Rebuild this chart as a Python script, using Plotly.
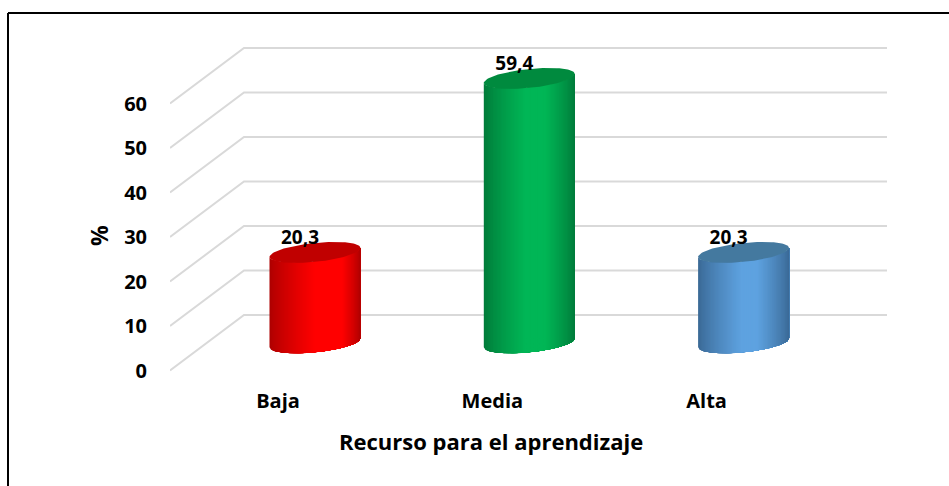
import numpy as np
import plotly.graph_objects as go

categories = ["Baja", "Media", "Alta"]
values = [20.3, 59.4, 20.3]
labels = ["20,3", "59,4", "20,3"]
y_ticks = [0, 10, 20, 30, 40, 50, 60]
x_title = "Recurso para el aprendizaje"
y_title = "%"

W, H = 949, 486
L, R, T, B = 170, 930, 40, 375
PX_PER_CAT = 214.3
PX_PER_VAL = 4.45
CAT0_PX = 278
ZERO_PX = 370.5

x0 = (L - CAT0_PX) / PX_PER_CAT
x1 = (R - CAT0_PX) / PX_PER_CAT
y0 = (ZERO_PX - B) / PX_PER_VAL
y1 = (ZERO_PX - T) / PX_PER_VAL

DEPTH_X = 74 / PX_PER_CAT
DEPTH_Y = 55.5 / PX_PER_VAL
RIGHT_END = (887 - CAT0_PX) / PX_PER_CAT
A = 45.5 / PX_PER_CAT
BV = 9.5 / PX_PER_VAL
SV = 4.5 / PX_PER_VAL
FONT = "Open Sans"

styles = [
    dict(edge=(172, 0, 0), mid=(255, 0, 0), top="#c00000", lo=0.0, hi=0.6),
    dict(edge=(0, 122, 58), mid=(0, 182, 86), top="#008a3e", lo=-0.1, hi=0.35),
    dict(edge=(58, 104, 148), mid=(94, 162, 224), top="#44799f", lo=-0.05, hi=0.3),
]


def shade(st, u):
    if u < st["lo"]:
        f = (u + 1) / (st["lo"] + 1)
    elif u > st["hi"]:
        f = (1 - u) / (1 - st["hi"])
    else:
        f = 1
    f = f ** 0.8
    c = [int(e + (m - e) * f) for e, m in zip(st["edge"], st["mid"])]
    return "rgb(%d,%d,%d)" % tuple(c)


fig = go.Figure()

# gridlines: side wall + back wall
gx, gy = [], []
for v in y_ticks:
    gx += [x0, x0 + DEPTH_X, RIGHT_END, None]
    gy += [v, v + DEPTH_Y, v + DEPTH_Y, None]
fig.add_trace(go.Scatter(x=gx, y=gy, mode="lines", line=dict(color="#d9d9d9", width=2),
                         hoverinfo="skip", showlegend=False))

N = 70
for i, (v, st) in enumerate(zip(values, styles)):
    cx = i + DEPTH_X / 2
    base = DEPTH_Y / 2
    top = base + v
    edges = np.linspace(-1, 1, N + 1)
    for a in edges[:-1]:
        # each strip runs to the right-hand edge and the next one paints over it
        us = np.linspace(a, 1, max(int((1 - a) * 30), 3))
        xs = cx + A * us
        front = np.sqrt(np.clip(1 - us ** 2, 0, 1)) * BV
        slope = SV * us
        px = np.concatenate([xs, xs[::-1]])
        py = np.concatenate([top + slope - front, (base + slope - front)[::-1]])
        fig.add_trace(go.Scatter(x=px, y=py, mode="lines", fill="toself",
                                 fillcolor=shade(st, a + 1 / N), line=dict(width=0),
                                 hoverinfo="skip", showlegend=False))
    t = np.linspace(0, 2 * np.pi, 90)
    fig.add_trace(go.Scatter(x=cx + A * np.cos(t), y=top + SV * np.cos(t) + BV * np.sin(t),
                             mode="lines", fill="toself", fillcolor=st["top"], line=dict(width=0),
                             hoverinfo="skip", showlegend=False))

# value labels
lx = [i + 22 / PX_PER_CAT for i in range(len(values))]
ly = [v + DEPTH_Y / 2 + 13 / PX_PER_VAL for v in values]
fig.add_trace(go.Scatter(x=lx, y=ly, mode="text", text=labels,
                         textfont=dict(family=FONT, size=19, color="#000000", weight="bold"),
                         hoverinfo="skip", showlegend=False))

fig.update_layout(
    width=W, height=H, autosize=False,
    margin=dict(l=L, r=W - R, t=T, b=H - B, pad=0),
    paper_bgcolor="white", plot_bgcolor="rgba(0,0,0,0)",
    showlegend=False,
    xaxis=dict(range=[x0, x1], tickmode="array", tickvals=list(range(len(categories))),
               ticktext=categories, showgrid=False, zeroline=False, showline=False,
               ticks="outside", ticklen=8, tickcolor="rgba(0,0,0,0)",
               tickfont=dict(family=FONT, size=20, color="#000000", weight="bold")),
    yaxis=dict(range=[y0, y1], tickmode="array", tickvals=y_ticks, showgrid=False,
               zeroline=False, showline=False, ticks="outside", ticklen=18,
               tickcolor="rgba(0,0,0,0)",
               tickfont=dict(family=FONT, size=20, color="#000000", weight="bold")),
    shapes=[
        dict(type="line", xref="paper", yref="paper",
             x0=(8 - L) / (R - L), x1=(949 - L) / (R - L),
             y0=(B - 13) / (B - T), y1=(B - 13) / (B - T),
             line=dict(color="#000000", width=2), layer="below"),
        dict(type="line", xref="paper", yref="paper",
             x0=(8 - L) / (R - L), x1=(8 - L) / (R - L),
             y0=(B - 486) / (B - T), y1=(B - 13) / (B - T),
             line=dict(color="#000000", width=2), layer="below"),
    ],
    annotations=[
        dict(text=x_title, xref="x", yref="paper", x=(491 - CAT0_PX) / PX_PER_CAT,
             y=(B - 441) / (B - T), showarrow=False, xanchor="center", yanchor="middle",
             font=dict(family=FONT, size=22, color="#000000", weight="bold")),
        dict(text=y_title, xref="paper", yref="y", x=(99 - L) / (R - L),
             y=(ZERO_PX - 236) / PX_PER_VAL, showarrow=False, textangle=-90,
             xanchor="center", yanchor="middle",
             font=dict(family=FONT, size=23, color="#000000", weight="bold")),
    ],
)

fig.write_html("out.html", config={"displayModeBar": False},
               post_script="document.body.style.margin='0';")
